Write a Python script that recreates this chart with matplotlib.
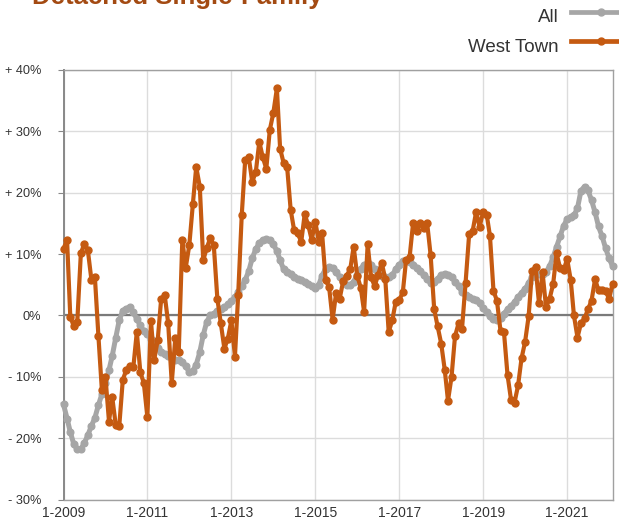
import matplotlib
matplotlib.use("Agg")
import matplotlib.pyplot as plt
import matplotlib.dates as mdates
from matplotlib.lines import Line2D
from matplotlib.ticker import FuncFormatter, FixedLocator
import numpy as np
import pandas as pd

# ---- data -------------------------------------------------------------
start_month = "2009-01-01"
n_months = 158

all_values = [
    -14.5, -16.8, -19.0, -21.0, -21.8, -21.8, -20.8, -19.5, -18.0, -16.7,
    -14.6, -12.8, -11.0, -8.9, -6.6, -3.6, -0.8, 0.8, 1.1, 1.4,
    0.5, -0.6, -1.6, -2.6, -3.0, -3.8, -4.5, -5.3, -6.0, -6.3,
    -6.6, -7.0, -7.2, -7.3, -7.6, -8.3, -9.2, -9.0, -8.0, -6.0,
    -3.2, -1.0, 0.0, 0.3, 0.7, 1.0, 1.3, 1.8, 2.3, 3.0,
    3.8, 4.8, 5.8, 7.2, 9.3, 10.8, 11.8, 12.3, 12.4, 12.3,
    11.6, 10.5, 9.0, 7.5, 7.0, 6.7, 6.3, 6.0, 5.8, 5.5,
    5.2, 4.8, 4.5, 5.0, 6.5, 7.6, 7.9, 7.8, 7.0, 6.3,
    5.5, 5.0, 5.0, 5.5, 6.6, 7.6, 8.3, 8.5, 8.2, 7.5,
    6.8, 6.4, 6.3, 6.3, 6.6, 7.5, 8.3, 8.8, 8.9, 8.7,
    8.3, 7.8, 7.2, 6.6, 5.9, 5.3, 5.5, 6.0, 6.6, 6.8,
    6.6, 6.2, 5.5, 4.8, 3.8, 3.3, 3.0, 2.7, 2.5, 2.0,
    1.2, 0.5, -0.1, -0.6, -0.8, -0.4, 0.3, 1.0, 1.5, 2.2,
    3.0, 3.7, 4.3, 5.3, 6.3, 6.7, 6.8, 6.8, 7.1, 8.0,
    9.5, 11.2, 12.9, 14.6, 15.7, 16.1, 16.3, 17.5, 20.3, 21.0,
    20.4, 18.8, 16.8, 14.5, 12.9, 11.0, 9.3, 8.0,
]

west_town_values = [
    10.9, 12.3, -0.2, -1.8, -1.0, 10.1, 11.7, 10.6, 5.8, 6.3,
    -3.4, -12.2, -10.0, -17.3, -13.3, -17.9, -18.1, -10.5, -8.9, -8.2,
    -8.4, -2.7, -9.3, -11.0, -16.6, -0.9, -7.3, -4.0, 2.7, 3.3,
    -1.3, -11.0, -3.7, -5.9, 12.3, 7.8, 11.5, 18.2, 24.2, 21.0,
    9.0, 11.0, 12.6, 11.4, 2.7, -1.3, -5.4, -3.8, -0.8, -6.7,
    3.3, 16.3, 25.3, 25.8, 21.8, 23.3, 28.3, 25.8, 23.9, 30.2,
    33.0, 37.0, 27.2, 24.8, 24.2, 17.2, 13.9, 13.4, 12.0, 16.5,
    14.7, 12.3, 15.3, 12.0, 13.5, 5.7, 4.7, -0.7, 3.6, 2.7,
    5.6, 6.5, 7.5, 11.2, 6.5, 4.5, 0.6, 11.6, 6.2, 4.8,
    6.6, 8.6, 6.0, -2.7, -0.8, 2.2, 2.5, 3.8, 9.0, 9.5,
    15.0, 13.8, 15.0, 14.2, 15.0, 9.8, 1.0, -1.8, -4.6, -8.9,
    -13.9, -10.0, -3.4, -1.3, -2.2, 5.3, 13.2, 13.7, 16.9, 14.4,
    16.9, 16.4, 13.0, 4.0, 2.4, -2.5, -2.7, -9.7, -13.8, -14.2,
    -11.4, -7.0, -4.3, -0.1, 7.2, 7.9, 2.0, 7.0, 1.4, 2.7,
    5.1, 10.1, 7.7, 7.4, 9.2, 5.8, 0.0, -3.6, -1.3, -0.5,
    1.0, 2.4, 5.9, 4.1, 4.1, 4.0, 2.7, 5.2,
]

series_names = ["All", "West Town"]
title_text = "Detached Single-Family"
y_ticks = [-30, -20, -10, 0, 10, 20, 30, 40]
x_tick_years = [2009, 2011, 2013, 2015, 2017, 2019, 2021]

# ---- style ------------------------------------------------------------
GRAY = "#a6a6a6"
ORANGE = "#c55a11"
TITLE_COLOR = "#a34a12"
TEXT = "#333333"
plt.rcParams["font.family"] = ["Liberation Sans", "DejaVu Sans"]

dates = pd.date_range(start_month, periods=n_months, freq="MS")

fig = plt.figure(figsize=(6.19, 5.26), dpi=100)
ax = fig.add_axes([63.5 / 619, 1 - 499.5 / 526, (613 - 63.5) / 619, (499.5 - 70) / 526])

ax.plot(dates, all_values, color=GRAY, lw=3.6, marker="o", ms=4.8,
        mec=GRAY, mfc=GRAY, zorder=3, clip_on=False, solid_joinstyle="round")
ax.plot(dates, west_town_values, color=ORANGE, lw=3.0, marker="o", ms=5.0,
        mec=ORANGE, mfc=ORANGE, zorder=4, clip_on=False, solid_joinstyle="round")

ax.set_ylim(-30, 40)
ax.set_xlim(pd.Timestamp("2009-01-01"), pd.Timestamp("2022-02-04"))

ax.yaxis.set_major_locator(FixedLocator(y_ticks))

def pct(v, pos):
    v = int(round(v))
    if v > 0:
        return f"+ {v}%"
    if v < 0:
        return f"- {abs(v)}%"
    return "0%"

ax.yaxis.set_major_formatter(FuncFormatter(pct))
xt = [mdates.date2num(pd.Timestamp(f"{y}-01-01")) for y in x_tick_years]
ax.set_xticks(xt)
ax.set_xticklabels([f"1-{y}" for y in x_tick_years])

ax.grid(True, color="#dcdcdc", lw=1.0, zorder=0)
ax.set_axisbelow(True)
ax.axhline(0, color="#7a7a7a", lw=1.6, zorder=2)

for side in ["top", "right", "bottom"]:
    ax.spines[side].set_color("#a0a0a0")
    ax.spines[side].set_linewidth(1.0)
ax.spines["left"].set_color("#888888")
ax.spines["left"].set_linewidth(1.4)

ax.tick_params(axis="y", length=4, color="#888888", pad=12, labelsize=9.2, labelcolor=TEXT)
ax.tick_params(axis="x", length=0, pad=5, labelsize=10, labelcolor=TEXT)

# ---- title (cut off at the top, as in the source) ----------------------
fig.text(32 / 619, 1 - 4 / 526, title_text, fontsize=18.5, fontweight="bold",
         color=TITLE_COLOR, ha="left", va="baseline")

# ---- legend (manual, right aligned, handles run off the edge) ---------
leg_rows = [(series_names[0], GRAY, 12, 18), (series_names[1], ORANGE, 41, 47)]
for name, col, yline, ytext in leg_rows:
    fig.text(559 / 619, 1 - ytext / 526, name, fontsize=13.5, color=TEXT,
             ha="right", va="center")
    fig.add_artist(Line2D([571 / 619, 632 / 619], [1 - yline / 526] * 2,
                          transform=fig.transFigure, color=col, lw=3.4))
    fig.add_artist(Line2D([601 / 619], [1 - yline / 526], transform=fig.transFigure,
                          color=col, marker="o", ms=5.0, lw=0))

fig.savefig("out.png", dpi=100)
